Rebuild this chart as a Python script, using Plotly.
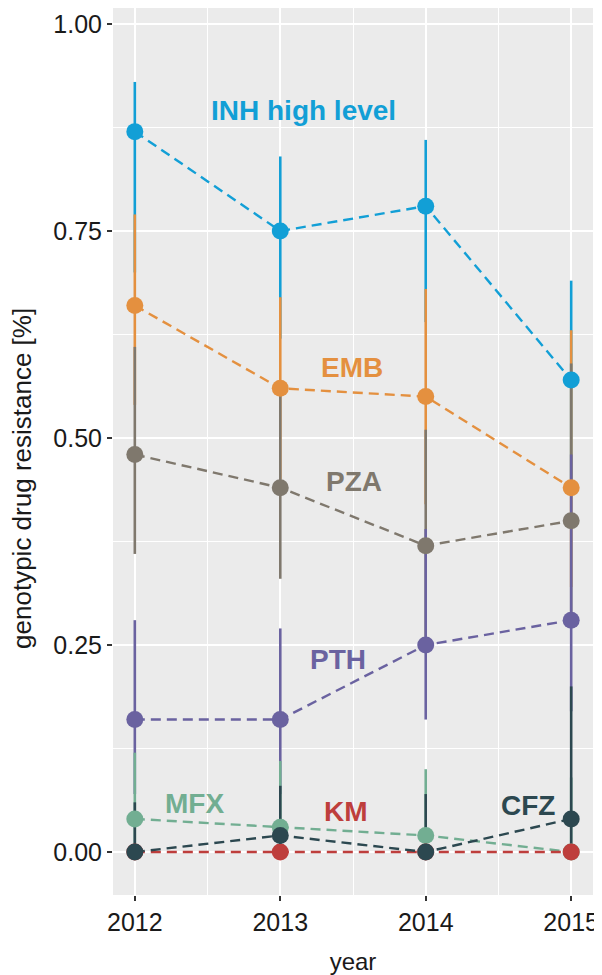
import plotly.graph_objects as go

years = [2012, 2013, 2014, 2015]

drugs = ["INH high level", "EMB", "PZA", "PTH", "MFX", "KM", "CFZ"]
colors = ["#129FD6", "#E4903F", "#7F786D", "#6A62A0", "#72AE92", "#BE3E3C", "#2C4850"]

inh = [0.87, 0.75, 0.78, 0.57]
inh_hi = [0.93, 0.84, 0.86, 0.69]
inh_lo = [0.70, 0.62, 0.64, 0.45]

emb = [0.66, 0.56, 0.55, 0.44]
emb_hi = [0.77, 0.67, 0.68, 0.63]
emb_lo = [0.54, 0.45, 0.42, 0.32]

pza = [0.48, 0.44, 0.37, 0.40]
pza_hi = [0.61, 0.56, 0.51, 0.59]
pza_lo = [0.36, 0.33, 0.26, 0.29]

pth = [0.16, 0.16, 0.25, 0.28]
pth_hi = [0.28, 0.27, 0.39, 0.48]
pth_lo = [0.07, 0.07, 0.16, 0.17]

mfx = [0.04, 0.03, 0.02, 0.00]
mfx_hi = [0.12, 0.11, 0.10, 0.09]
mfx_lo = [0.00, 0.00, 0.00, 0.00]

km = [0.00, 0.00, 0.00, 0.00]
km_hi = [0.00, 0.00, 0.00, 0.00]
km_lo = [0.00, 0.00, 0.00, 0.00]

cfz = [0.00, 0.02, 0.00, 0.04]
cfz_hi = [0.06, 0.08, 0.07, 0.20]
cfz_lo = [0.00, 0.00, 0.00, 0.00]

series = [
    (inh, inh_hi, inh_lo),
    (emb, emb_hi, emb_lo),
    (pza, pza_hi, pza_lo),
    (pth, pth_hi, pth_lo),
    (mfx, mfx_hi, mfx_lo),
    (km, km_hi, km_lo),
    (cfz, cfz_hi, cfz_lo),
]

y_ticks = [0, 0.25, 0.5, 0.75, 1.0]
y_ticktext = ["0.00", "0.25", "0.50", "0.75", "1.00"]

fig = go.Figure()

# error bars (drawn first, in drug order)
for name, col, (v, hi, lo) in zip(drugs, colors, series):
    fig.add_trace(go.Scatter(
        x=years, y=v, mode="markers",
        marker=dict(size=1, opacity=0, color=col),
        error_y=dict(type="data", symmetric=False,
                     array=[h - p for h, p in zip(hi, v)],
                     arrayminus=[p - l for p, l in zip(v, lo)],
                     color=col, thickness=2.6, width=0),
        showlegend=False, hoverinfo="skip"))

# dashed lines
for name, col, (v, hi, lo) in zip(drugs, colors, series):
    fig.add_trace(go.Scatter(
        x=years, y=v, mode="lines",
        line=dict(color=col, width=2.4, dash="10px,6px"),
        showlegend=False, hoverinfo="skip"))

# points
for name, col, (v, hi, lo) in zip(drugs, colors, series):
    fig.add_trace(go.Scatter(
        x=years, y=v, mode="markers", name=name,
        marker=dict(size=17, color=col),
        showlegend=False))

# direct labels
label_pos = {
    "INH high level": (2013.16, 0.895),
    "EMB": (2013.49, 0.585),
    "PZA": (2013.51, 0.447),
    "PTH": (2013.40, 0.232),
    "MFX": (2012.41, 0.059),
    "KM": (2013.45, 0.049),
    "CFZ": (2014.70, 0.056),
}
for name, col in zip(drugs, colors):
    lx, ly = label_pos[name]
    fig.add_annotation(x=lx, y=ly, text="<b>%s</b>" % name, showarrow=False,
                       font=dict(family="Liberation Sans, Arial", size=28, color=col),
                       xanchor="center", yanchor="middle")

# y-axis title
fig.add_annotation(xref="paper", yref="paper", x=-0.19, y=0.47,
                   text="genotypic drug resistance [%]", textangle=-90, showarrow=False,
                   font=dict(family="Liberation Sans, Arial", size=26, color="#1a1a1a"),
                   xanchor="center", yanchor="middle")

fig.update_layout(
    width=594, height=967,
    margin=dict(l=105, r=9, t=0, b=80, autoexpand=False),
    paper_bgcolor="white",
    plot_bgcolor="#EBEBEB",
    font=dict(family="Liberation Sans, Arial", color="#1a1a1a"),
    showlegend=False,
)
fig.update_xaxes(
    range=[2011.85, 2015.15], automargin=False, ticklabeloverflow="allow",
    tickvals=years, ticktext=[str(y) for y in years],
    ticks="outside", ticklen=5, tickwidth=1.5, tickcolor="#333333",
    tickfont=dict(size=25, color="#1a1a1a"),
    showgrid=True, gridcolor="white", gridwidth=2,
    minor=dict(dtick=0.5, tick0=2011.5, showgrid=True, gridcolor="white", gridwidth=1, ticks=""),
    zeroline=False, showline=False,
    title=dict(text="year", font=dict(size=24, color="#1a1a1a"), standoff=19),
)
fig.update_yaxes(
    range=[-0.0519, 1.0193], automargin=False, ticklabeloverflow="allow",
    tickvals=y_ticks, ticktext=y_ticktext,
    ticks="outside", ticklen=5, tickwidth=1.5, tickcolor="#333333",
    tickfont=dict(size=25, color="#1a1a1a"),
    showgrid=True, gridcolor="white", gridwidth=2,
    minor=dict(dtick=0.125, tick0=0.125, showgrid=True, gridcolor="white", gridwidth=1, ticks=""),
    zeroline=False, showline=False,
)

fig.write_html("out.html")
